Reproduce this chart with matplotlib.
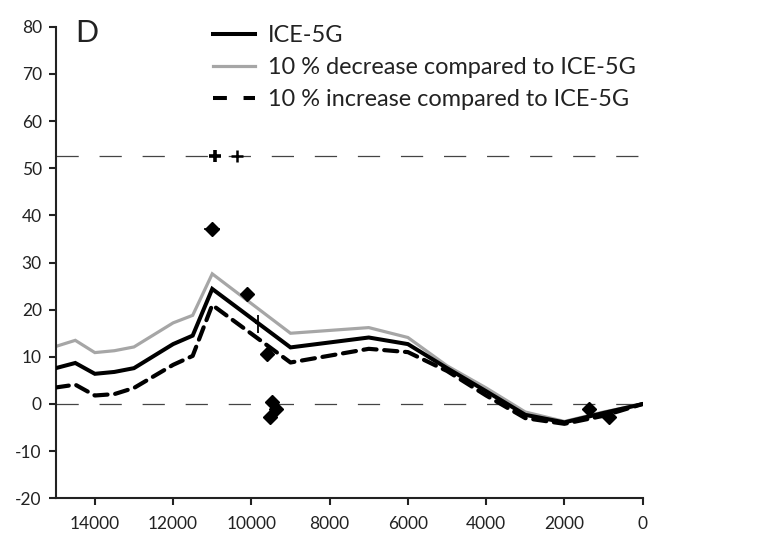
import matplotlib
matplotlib.use("Agg")
import matplotlib.pyplot as plt
from matplotlib.lines import Line2D

plt.rcParams['font.family'] = ['Lato', 'DejaVu Sans']
plt.rcParams['lines.scale_dashes'] = False
plt.rcParams['axes.unicode_minus'] = False

# Model curves (years BP vs. relative sea level)
age = [15000, 14500, 14000, 13500, 13000, 12000, 11500, 11000, 9000, 7000,
       6000, 5000, 4000, 3000, 2000, 1000, 0]
ice5g = [7.6, 8.7, 6.4, 6.8, 7.6, 12.7, 14.5, 24.4, 12.0, 14.1,
         12.7, 7.6, 2.7, -2.3, -3.9, -1.9, 0.0]
decrease = [12.2, 13.5, 10.9, 11.3, 12.1, 17.2, 18.8, 27.6, 15.0, 16.2,
            14.1, 8.1, 3.4, -1.7, -3.7, -1.7, 0.0]
increase = [3.5, 4.1, 1.8, 2.1, 3.4, 8.3, 10.2, 21.0, 8.8, 11.7,
            11.0, 7.0, 1.8, -3.0, -4.2, -2.5, 0.0]

# Observations
obs_age = [11000, 10120, 9610, 9480, 9370, 9520, 1370, 860]
obs_rsl = [37.2, 23.3, 10.6, 0.4, -1.1, -2.8, -1.1, -2.8]
obs_xerr = [210, 0, 0, 0, 0, 0, 0, 0]

limit_age = [10930, 10360]
limit_rsl = [52.5, 52.5]

err_age = [9840]
err_rsl = [17.2]
err_low = [2.2]
err_high = [1.7]

ref_levels = [52.5, 0]

legend_labels = ['ICE-5G', '10 % decrease compared to ICE-5G',
                 '10 % increase compared to ICE-5G']

W, H = 757, 541
fig = plt.figure(figsize=(W / 100, H / 100), dpi=100)
ax = fig.add_axes([0.0736, 0.0789, 0.7754, 0.8717])

for lvl in ref_levels:
    ax.axhline(lvl, color='#444444', lw=0.9, linestyle=(0, (16, 15)), zorder=1)

styles = [dict(color='black', lw=2.9, linestyle='-'),
          dict(color='#a6a6a6', lw=2.3, linestyle='-'),
          dict(color='black', lw=3.0, linestyle=(0, (9.5, 5.5)))]

ax.plot(age, decrease, solid_joinstyle='miter', zorder=2, **styles[1])
ax.plot(age, ice5g, solid_joinstyle='miter', zorder=3, **styles[0])
ax.plot(age, increase, zorder=3, dash_capstyle='round', **styles[2])

ax.errorbar(obs_age, obs_rsl, xerr=obs_xerr, fmt='D', color='black',
            ms=6.8, elinewidth=1.2, capsize=0, zorder=4)
ax.plot(limit_age[:1], limit_rsl[:1], '+', color='black', ms=9, mew=2.6, zorder=4)
ax.plot(limit_age[1:], limit_rsl[1:], '+', color='black', ms=8, mew=1.8, zorder=4)
ax.errorbar(err_age, err_rsl, yerr=[err_low, err_high], xerr=[[60], [60]],
            fmt='none', ecolor='black', elinewidth=1.3, capsize=0, zorder=4)

ax.set_xlim(15000, 0)
ax.set_ylim(-20, 80)
ax.set_xticks([14000, 12000, 10000, 8000, 6000, 4000, 2000, 0])
ax.set_yticks(range(-20, 81, 10))
for s in ['top', 'right']:
    ax.spines[s].set_visible(False)
for s in ['left', 'bottom']:
    ax.spines[s].set_linewidth(1.5)
    ax.spines[s].set_color('#222222')
ax.tick_params(axis='both', direction='out', length=5, width=1.5,
               color='#222222', labelsize=12.5, labelcolor='#222222')
ax.tick_params(axis='x', pad=8)
ax.tick_params(axis='y', pad=5)

ax.text(0.034, 0.9686, 'D', transform=ax.transAxes, fontsize=22,
        ha='left', va='baseline', color='#222222')

# Legend drawn in figure pixel positions
leg_style = [styles[0], styles[1], dict(color='black', lw=2.9, linestyle=(0, (10, 12)))]
rows = [34, 66, 98]
for st, lab, yp in zip(leg_style, legend_labels, rows):
    fy = 1 - yp / H
    fig.add_artist(Line2D([212.7 / W, 255 / W], [fy, fy],
                          transform=fig.transFigure, **st))
    fig.text(268 / W, 1 - (yp + 7.5) / H, lab, fontsize=16.9,
             ha='left', va='baseline', color='#222222')

fig.savefig('out.png', dpi=100)
